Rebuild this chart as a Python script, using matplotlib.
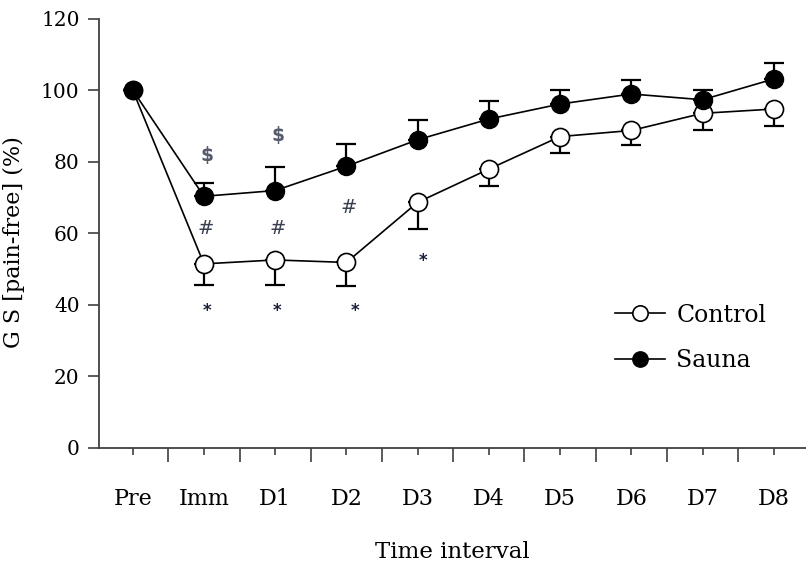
import matplotlib
matplotlib.use("Agg")
import matplotlib.pyplot as plt
import numpy as np
from matplotlib.ticker import FixedLocator, NullFormatter

# ---- data ----
categories = ["Pre", "Imm", "D1", "D2", "D3", "D4", "D5", "D6", "D7", "D8"]
control = [100, 51.4, 52.5, 51.8, 68.6, 77.9, 87.0, 88.7, 93.5, 94.7]
control_err = [0, 5.8, 6.9, 6.7, 7.4, 4.8, 4.6, 4.0, 4.6, 4.8]
sauna = [100, 70.3, 71.9, 78.7, 86.1, 91.9, 96.1, 98.9, 97.3, 103.1]
sauna_err = [0, 3.8, 6.5, 6.2, 5.6, 5.0, 3.8, 3.8, 2.8, 4.4]
yticks = [0, 20, 40, 60, 80, 100, 120]

# significance symbols: (category index, y value)
dollar_idx = [1, 2]
dollar_y = [81.7, 87.3]
hash_idx = [1, 2, 3]
hash_y = [61.2, 61.2, 67.2]
star_idx = [1, 2, 3, 4]
star_y = [38.8, 38.8, 38.8, 52.6]
star_dx = [0.05, 0.02, 0.12, 0.07]

serif = ["DejaVu Serif"]

fig = plt.figure(figsize=(8.06, 5.85), dpi=100)
ax = fig.add_axes([0.1228, 0.2347, 0.877, 0.7336])

x = np.arange(len(categories))

ax.errorbar(x, sauna, yerr=[np.zeros(len(x)), sauna_err], fmt="none",
            ecolor="black", elinewidth=1.6, capsize=7, capthick=1.6, zorder=2)
ax.errorbar(x, control, yerr=[control_err, np.zeros(len(x))], fmt="none",
            ecolor="black", elinewidth=1.6, capsize=7, capthick=1.6, zorder=2)

ax.plot(x, control, "-o", color="black", lw=1.2, markersize=13,
        markerfacecolor="white", markeredgecolor="black", markeredgewidth=1.2,
        label="Control", zorder=3)
ax.plot(x, sauna, "-o", color="black", lw=1.2, markersize=13,
        markerfacecolor="black", markeredgecolor="black",
        label="Sauna", zorder=4)

for i, yv in zip(dollar_idx, dollar_y):
    ax.text(x[i] + 0.04, yv, "$", ha="center", va="center", fontsize=13.5,
            color="#555b6b", family=["DejaVu Sans"], fontweight="bold")
for i, yv in zip(hash_idx, hash_y):
    ax.text(x[i] + 0.03, yv, "#", ha="center", va="center", fontsize=14,
            color="#3a3f4f", family=["DejaVu Sans"])
for i, yv, dx in zip(star_idx, star_y, star_dx):
    ax.text(x[i] + dx, yv - 0.5, "*", ha="center", va="center", fontsize=12,
            color="#1a1f3a", family=["DejaVu Sans"], fontweight="bold")

ax.set_xlim(-0.473, 9.45)
ax.set_ylim(0, 120)
ax.set_yticks(yticks)
ax.set_yticklabels([str(v) for v in yticks], family=serif, fontsize=14.5)

ax.xaxis.set_major_locator(FixedLocator(np.arange(-0.5, 9.6, 1.0)))
ax.xaxis.set_major_formatter(NullFormatter())
ax.set_xticks(x, minor=True)
ax.set_xticklabels(categories, minor=True, family=serif, fontsize=16)
ax.tick_params(axis="x", which="major", length=10, width=1.2, color="#404040",
               direction="out")
ax.tick_params(axis="x", which="minor", length=5, width=1.2, color="#404040",
               direction="out", pad=24)
ax.tick_params(axis="y", length=8, width=1.2, color="#404040", pad=6)

for s in ["top", "right"]:
    ax.spines[s].set_visible(False)
for s in ["left", "bottom"]:
    ax.spines[s].set_color("#404040")
    ax.spines[s].set_linewidth(1.3)

ax.set_xlabel("Time interval", family=serif, fontsize=16.5, labelpad=22)
ax.set_ylabel("G S [pain-free] (%)", family=serif, fontsize=16, labelpad=10)
ax.yaxis.set_label_coords(-0.105, 0.48)

leg = ax.legend(loc="upper left", bbox_to_anchor=(0.70, 0.385), frameon=False,
                prop={"family": serif, "size": 17}, handlelength=2.1,
                markerscale=0.85, labelspacing=0.95, handletextpad=0.5)

fig.savefig("out.png", dpi=100)
